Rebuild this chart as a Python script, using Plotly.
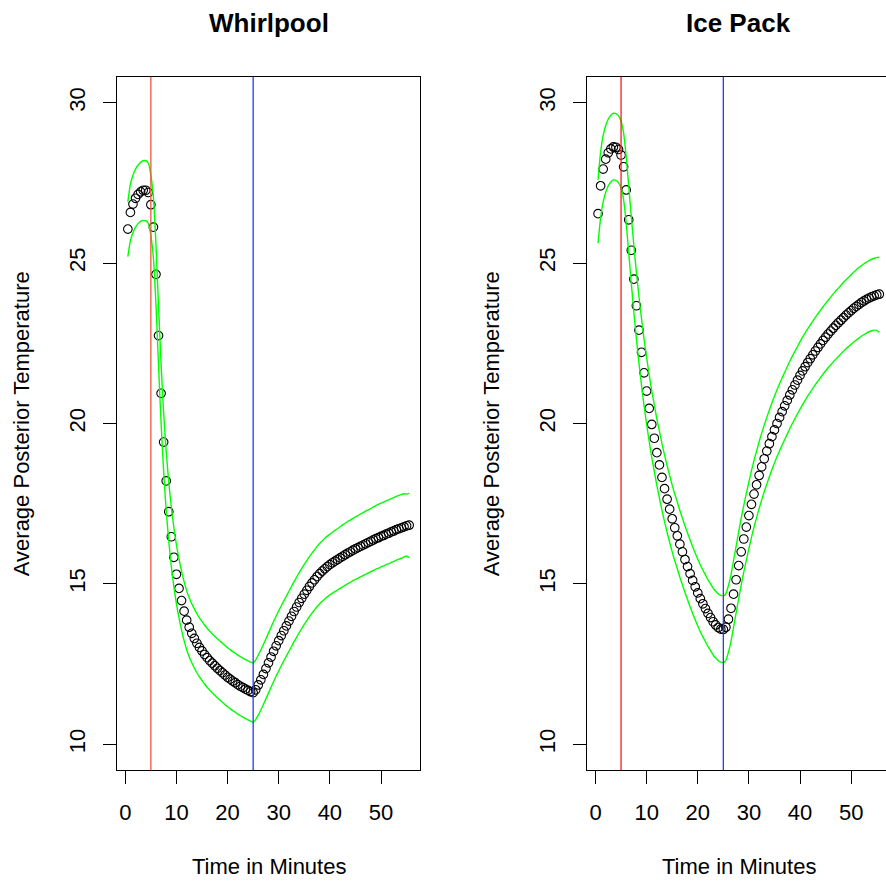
import plotly.graph_objects as go

# ---------------- data ----------------
time_min = [0.5, 1.0, 1.5, 2.0, 2.5, 3.0, 3.5, 4.0, 4.5, 5.0, 5.5, 6.0, 6.5, 7.0, 7.5, 8.0, 8.5, 9.0, 9.5, 10.0,
            10.5, 11.0, 11.5, 12.0, 12.5, 13.0, 13.5, 14.0, 14.5, 15.0, 15.5, 16.0, 16.5, 17.0, 17.5, 18.0, 18.5, 19.0, 19.5, 20.0,
            20.5, 21.0, 21.5, 22.0, 22.5, 23.0, 23.5, 24.0, 24.5, 25.0, 25.5, 26.0, 26.5, 27.0, 27.5, 28.0, 28.5, 29.0, 29.5, 30.0,
            30.5, 31.0, 31.5, 32.0, 32.5, 33.0, 33.5, 34.0, 34.5, 35.0, 35.5, 36.0, 36.5, 37.0, 37.5, 38.0, 38.5, 39.0, 39.5, 40.0,
            40.5, 41.0, 41.5, 42.0, 42.5, 43.0, 43.5, 44.0, 44.5, 45.0, 45.5, 46.0, 46.5, 47.0, 47.5, 48.0, 48.5, 49.0, 49.5, 50.0,
            50.5, 51.0, 51.5, 52.0, 52.5, 53.0, 53.5, 54.0, 54.5, 55.0, 55.5]

whirl_mean = [26.06, 26.58, 26.84, 27.02, 27.14, 27.22, 27.27, 27.27, 27.20, 26.82, 26.12, 24.65, 22.74, 20.94, 19.42, 18.21, 17.25, 16.47, 15.83, 15.30,
              14.86, 14.48, 14.15, 13.87, 13.65, 13.46, 13.30, 13.15, 13.02, 12.91, 12.80, 12.70, 12.61, 12.53, 12.45, 12.37, 12.30, 12.23, 12.16, 12.09,
              12.03, 11.97, 11.92, 11.86, 11.81, 11.77, 11.72, 11.68, 11.64, 11.61, 11.70, 11.85, 12.01, 12.18, 12.36, 12.54, 12.72, 12.90, 13.07, 13.23,
              13.39, 13.54, 13.69, 13.84, 13.99, 14.14, 14.28, 14.42, 14.55, 14.68, 14.80, 14.92, 15.03, 15.13, 15.23, 15.32, 15.40, 15.47, 15.54, 15.60,
              15.66, 15.71, 15.76, 15.81, 15.86, 15.91, 15.96, 16.00, 16.05, 16.09, 16.13, 16.17, 16.21, 16.25, 16.29, 16.33, 16.37, 16.41, 16.44, 16.48,
              16.51, 16.55, 16.58, 16.62, 16.65, 16.69, 16.72, 16.75, 16.78, 16.81, 16.83]

whirl_upper = [26.91, 27.46, 27.74, 27.93, 28.05, 28.14, 28.19, 28.19, 28.12, 27.74, 27.04, 25.57, 23.66, 21.86, 20.34, 19.13, 18.17, 17.39, 16.75, 16.22,
               15.78, 15.40, 15.07, 14.79, 14.57, 14.38, 14.22, 14.07, 13.94, 13.83, 13.72, 13.62, 13.53, 13.45, 13.37, 13.29, 13.22, 13.15, 13.08, 13.01,
               12.95, 12.89, 12.84, 12.78, 12.73, 12.69, 12.64, 12.60, 12.56, 12.54, 12.63, 12.78, 12.94, 13.11, 13.29, 13.47, 13.65, 13.83, 14.00, 14.16,
               14.32, 14.47, 14.62, 14.77, 14.92, 15.07, 15.21, 15.35, 15.48, 15.61, 15.73, 15.85, 15.96, 16.06, 16.17, 16.26, 16.34, 16.42, 16.49, 16.55,
               16.61, 16.67, 16.72, 16.78, 16.84, 16.89, 16.95, 16.99, 17.04, 17.09, 17.13, 17.18, 17.22, 17.27, 17.31, 17.35, 17.40, 17.44, 17.48, 17.52,
               17.55, 17.59, 17.62, 17.66, 17.69, 17.73, 17.76, 17.79, 17.81, 17.80, 17.82]

whirl_lower = [25.20, 25.70, 25.95, 26.12, 26.23, 26.30, 26.33, 26.32, 26.24, 25.86, 25.16, 23.70, 21.80, 20.01, 18.50, 17.29, 16.33, 15.55, 14.91, 14.38,
               13.94, 13.56, 13.23, 12.95, 12.73, 12.54, 12.38, 12.23, 12.10, 11.99, 11.88, 11.78, 11.69, 11.61, 11.53, 11.45, 11.38, 11.31, 11.24, 11.17,
               11.11, 11.05, 11.00, 10.94, 10.89, 10.85, 10.80, 10.76, 10.72, 10.69, 10.77, 10.91, 11.07, 11.24, 11.42, 11.60, 11.78, 11.96, 12.13, 12.29,
               12.45, 12.60, 12.75, 12.90, 13.05, 13.20, 13.34, 13.48, 13.61, 13.74, 13.86, 13.98, 14.09, 14.19, 14.29, 14.38, 14.46, 14.53, 14.60, 14.66,
               14.71, 14.76, 14.81, 14.86, 14.91, 14.96, 15.01, 15.05, 15.10, 15.14, 15.18, 15.22, 15.26, 15.30, 15.34, 15.38, 15.42, 15.46, 15.49, 15.53,
               15.56, 15.60, 15.63, 15.67, 15.70, 15.74, 15.77, 15.80, 15.84, 15.87, 15.82]

ice_mean = [26.54, 27.41, 27.93, 28.24, 28.44, 28.56, 28.62, 28.61, 28.54, 28.37, 28.00, 27.28, 26.35, 25.40, 24.50, 23.67, 22.91, 22.22, 21.58, 21.01,
            20.47, 19.97, 19.54, 19.09, 18.71, 18.32, 17.97, 17.64, 17.33, 17.03, 16.75, 16.50, 16.24, 16.00, 15.76, 15.54, 15.32, 15.11, 14.91, 14.72,
            14.54, 14.38, 14.23, 14.08, 13.95, 13.82, 13.72, 13.64, 13.59, 13.58, 13.65, 13.90, 14.24, 14.68, 15.13, 15.57, 16.00, 16.40, 16.77, 17.13,
            17.48, 17.80, 18.09, 18.38, 18.65, 18.90, 19.14, 19.37, 19.59, 19.80, 20.00, 20.19, 20.37, 20.55, 20.72, 20.89, 21.05, 21.20, 21.35, 21.50,
            21.64, 21.77, 21.90, 22.02, 22.14, 22.26, 22.37, 22.48, 22.59, 22.69, 22.79, 22.88, 22.97, 23.06, 23.14, 23.22, 23.30, 23.38, 23.45, 23.52,
            23.59, 23.65, 23.71, 23.77, 23.82, 23.87, 23.91, 23.95, 23.98, 24.01, 24.03]

ice_upper = [27.59, 28.46, 28.98, 29.29, 29.49, 29.61, 29.67, 29.66, 29.59, 29.42, 29.05, 28.33, 27.40, 26.45, 25.55, 24.72, 23.96, 23.27, 22.63, 22.06,
             21.52, 21.02, 20.59, 20.14, 19.76, 19.37, 19.02, 18.69, 18.38, 18.08, 17.80, 17.55, 17.29, 17.05, 16.81, 16.59, 16.37, 16.16, 15.96, 15.77,
             15.59, 15.43, 15.28, 15.13, 15.00, 14.87, 14.77, 14.69, 14.64, 14.63, 14.70, 14.95, 15.29, 15.73, 16.18, 16.62, 17.05, 17.45, 17.82, 18.18,
             18.53, 18.85, 19.14, 19.43, 19.70, 19.95, 20.19, 20.42, 20.64, 20.85, 21.05, 21.24, 21.42, 21.60, 21.77, 21.94, 22.10, 22.25, 22.40, 22.55,
             22.69, 22.82, 22.95, 23.07, 23.19, 23.31, 23.42, 23.53, 23.64, 23.74, 23.84, 23.94, 24.04, 24.13, 24.22, 24.31, 24.40, 24.48, 24.56, 24.64,
             24.72, 24.79, 24.86, 24.92, 24.98, 25.03, 25.08, 25.12, 25.15, 25.17, 25.18]

ice_lower = [25.62, 26.41, 26.91, 27.21, 27.41, 27.53, 27.59, 27.58, 27.51, 27.34, 26.97, 26.25, 25.32, 24.37, 23.47, 22.64, 21.88, 21.19, 20.55, 19.98,
             19.44, 18.94, 18.51, 18.06, 17.68, 17.29, 16.94, 16.61, 16.30, 16.00, 15.72, 15.47, 15.21, 14.97, 14.73, 14.51, 14.29, 14.08, 13.88, 13.69,
             13.51, 13.35, 13.20, 13.05, 12.92, 12.79, 12.69, 12.61, 12.56, 12.55, 12.62, 12.87, 13.21, 13.65, 14.10, 14.54, 14.97, 15.37, 15.74, 16.10,
             16.45, 16.77, 17.06, 17.35, 17.62, 17.87, 18.11, 18.34, 18.56, 18.77, 18.97, 19.15, 19.33, 19.50, 19.67, 19.84, 20.00, 20.15, 20.30, 20.45,
             20.59, 20.72, 20.85, 20.97, 21.09, 21.21, 21.32, 21.43, 21.54, 21.64, 21.74, 21.83, 21.92, 22.01, 22.09, 22.17, 22.25, 22.33, 22.40, 22.47,
             22.54, 22.60, 22.66, 22.72, 22.77, 22.82, 22.86, 22.89, 22.91, 22.90, 22.84]

event_times = [5, 25]          # treatment start / end (minutes)
x_ticks = [0, 10, 20, 30, 40, 50]
y_ticks = [10, 15, 20, 25, 30]
panel_titles = ["Whirlpool", "Ice Pack"]
x_title = "Time in Minutes"
y_title = "Average Posterior Temperature"

# ---------------- layout geometry (pixels) ----------------
W, H = 886, 881
FONT = "Liberation Sans, Arial, Helvetica, sans-serif"
top_px, bot_px = 76.7, 770.3
panels = [
    dict(left=116.7, right=420.3, xr=[-1.68, 57.68], center=268.5, red="#F2553C"),
    dict(left=586.7, right=886.0, xr=[-1.72, 56.81], center=738.6, red="#FF1A1A"),
]
ydom = [1 - bot_px / H, 1 - top_px / H]

fig = go.Figure()
series = [(whirl_mean, whirl_upper, whirl_lower), (ice_mean, ice_upper, ice_lower)]
for i, (m, u, l) in enumerate(series):
    xa = "x" if i == 0 else "x2"
    ya = "y" if i == 0 else "y2"
    fig.add_trace(go.Scatter(x=time_min, y=m, mode="markers", xaxis=xa, yaxis=ya,
                             marker=dict(symbol="circle-open", size=8.6, color="black",
                                         line=dict(color="black", width=1.1)),
                             hoverinfo="skip", showlegend=False))
    for band in (u, l):
        fig.add_trace(go.Scatter(x=time_min, y=band, mode="lines", xaxis=xa, yaxis=ya,
                                 line=dict(color="#00FF00", width=1.4, shape="spline", smoothing=0.6),
                                 hoverinfo="skip", showlegend=False))

shapes = []
annotations = []
for i, p in enumerate(panels):
    sfx = "" if i == 0 else "2"
    xref = "x" + sfx
    for t, col in zip(event_times, [p["red"], "#2040F0"]):
        shapes.append(dict(type="line", xref=xref, yref="y" + sfx + " domain",
                           x0=t, x1=t, y0=0, y1=1, layer="above",
                           line=dict(color=col, width=1.3)))
    annotations.append(dict(text="<b>" + panel_titles[i] + "</b>", xref="paper", yref="paper",
                            x=p["center"] / W, y=1 - 23.5 / H, xanchor="center", yanchor="middle",
                            showarrow=False, font=dict(family=FONT, size=26, color="black")))
    annotations.append(dict(text=x_title, xref="paper", yref="paper",
                            x=p["center"] / W, y=1 - 866 / H, xanchor="center", yanchor="middle",
                            showarrow=False, font=dict(family=FONT, size=22, color="black")))
    annotations.append(dict(text=y_title, xref="paper", yref="paper", textangle=-90,
                            x=(p["left"] - 95) / W, y=1 - 423.5 / H, xanchor="center", yanchor="middle",
                            showarrow=False, font=dict(family=FONT, size=22, color="black")))

axis_common = dict(showgrid=False, zeroline=False, showline=True, linecolor="black", linewidth=1.3,
                   ticks="outside", ticklen=13, tickwidth=1.3, tickcolor="black",
                   tickfont=dict(family=FONT, size=22, color="black"))

layout = dict(width=W, height=H, margin=dict(l=0, r=0, t=0, b=0),
              paper_bgcolor="white", plot_bgcolor="white", showlegend=False,
              shapes=shapes, annotations=annotations, hovermode=False)
for i, p in enumerate(panels):
    sfx = "" if i == 0 else "2"
    layout["xaxis" + sfx] = dict(axis_common, domain=[p["left"] / W, p["right"] / W], range=p["xr"],
                                 tickvals=x_ticks, mirror=True, anchor="y" + sfx,
                                 ticklabelstandoff=9)
    layout["yaxis" + sfx] = dict(axis_common, domain=ydom, range=[9.19, 30.81], tickvals=y_ticks,
                                 tickangle=-90, mirror=(i == 0), anchor="x" + sfx,
                                 ticklabelstandoff=9)
fig.update_layout(**layout)
fig.write_html("out.html", config={"displayModeBar": False})
